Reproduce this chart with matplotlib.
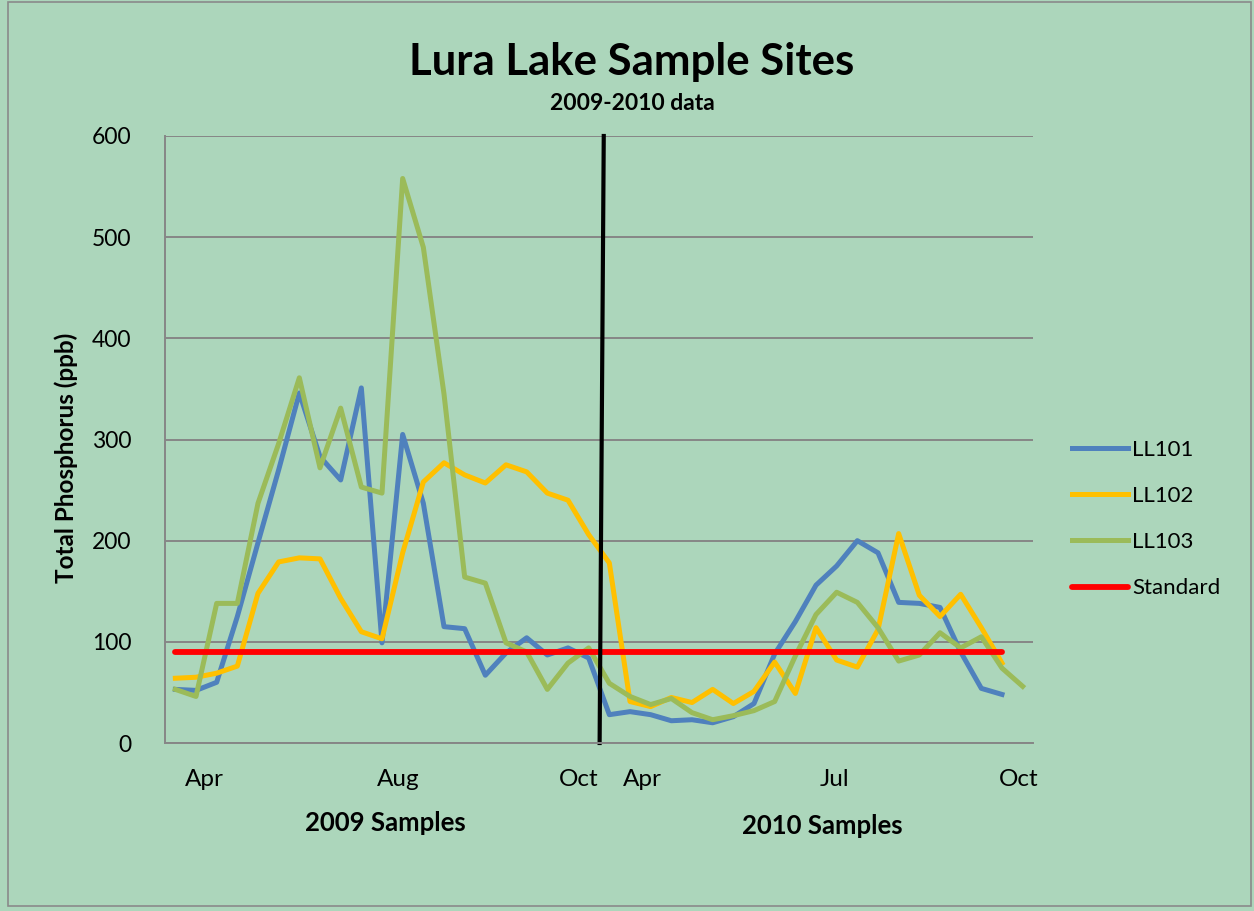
import numpy as np
import matplotlib
matplotlib.use("Agg")
import matplotlib.pyplot as plt
from matplotlib.patches import Rectangle

# values (ppb), one per sample
ll101 = [53, 52, 60, 125, 198, 270, 346, 283, 260, 351, 99, 305, 237, 115, 113, 67,
         89, 104, 87, 94, 84,
         28, 31, 28, 22, 23, 20, 26, 39, 88, 120, 156, 175, 200, 188, 139, 138, 134,
         90, 54, 48]
ll102 = [64, 65, 69, 76, 148, 179, 183, 182, 143, 110, 103, 188, 258, 277, 265, 257,
         275, 268, 247, 240, 206,
         178, 41, 36, 45, 40, 53, 39, 51, 80, 49, 114, 82, 75, 112, 207, 146, 125,
         147, 114, 79]
ll103 = [53, 46, 138, 138, 237, 296, 361, 272, 331, 253, 247, 558, 490, 345, 164, 158,
         99, 90, 53, 79, 94,
         59, 46, 38, 44, 30, 23, 27, 32, 41, 86, 127, 149, 139, 114, 81, 87, 109,
         94, 105, 74, 56]
standard = [90] * 41

month_labels = ['Apr', 'Aug', 'Oct', 'Apr', 'Jul', 'Oct']
month_pos = [1.4, 10.8, 19.5, 22.6, 31.9, 40.8]
year_split = 20.6

bg = '#acd6bb'
font = ['Lato', 'DejaVu Sans']
plt.rcParams['font.family'] = font

fig = plt.figure(figsize=(12.54, 9.11), dpi=100, facecolor=bg)
fig.patches.append(Rectangle((0.006, 0.006), 0.992, 0.992, transform=fig.transFigure,
                             fill=False, edgecolor='#8a8a8a', linewidth=1.2))

ax = fig.add_axes([165/1254, 1-743/911, (1033-165)/1254, (743-136)/911])
ax.set_facecolor(bg)

ax.plot(range(len(ll101)), ll101, color='#4f81bd', lw=3.6, label='LL101', solid_joinstyle='round')
ax.plot(range(len(ll102)), ll102, color='#ffc000', lw=3.6, label='LL102', solid_joinstyle='round')
ax.plot(range(len(ll103)), ll103, color='#9bbb59', lw=3.6, label='LL103', solid_joinstyle='round')
ax.plot(range(len(standard)), standard, color='#ff0000', lw=4.2, label='Standard',
        solid_capstyle='round')

# divider between 2009 and 2010
ax.plot([year_split - 0.07, year_split + 0.13], [0, 600], color='black', lw=3, clip_on=False)

ax.set_xlim(-0.5, 41.5)
ax.set_ylim(0, 600)
ax.set_yticks(range(0, 601, 100))
ax.yaxis.grid(True, color='#868686', lw=1.4)
ax.set_axisbelow(True)
ax.set_xticks(month_pos)
ax.set_xticklabels(month_labels, fontsize=17.5)
ax.tick_params(axis='x', length=0, pad=19)
ax.tick_params(axis='y', length=0, pad=24, labelsize=16.5)
for s in ['top', 'right']:
    ax.spines[s].set_visible(False)
for s in ['left', 'bottom']:
    ax.spines[s].set_color('#868686')
    ax.spines[s].set_linewidth(1.4)

fig.text(66/1254, 1-458/911, 'Total Phosphorus (ppb)', fontsize=17.5, fontweight='bold',
         rotation=90, ha='center', va='center')
fig.text(632/1254, 1-62/911, 'Lura Lake Sample Sites', fontsize=31.5, fontweight='bold',
         ha='center', va='center')
fig.text(632/1254, 1-104/911, '2009-2010 data', fontsize=16.5, fontweight='bold',
         ha='center', va='center')
fig.text(385/1254, 1-823/911, '2009 Samples', fontsize=18.5, fontweight='bold',
         ha='center', va='center')
fig.text(822/1254, 1-826/911, '2010 Samples', fontsize=18.5, fontweight='bold',
         ha='center', va='center')

fig.legend(loc='center left', bbox_to_anchor=(1052/1254, 1-519/911), frameon=False,
           fontsize=16, handlelength=2.5, labelspacing=1.18, handletextpad=0.2)

fig.savefig('out.png', dpi=100, facecolor=bg)
